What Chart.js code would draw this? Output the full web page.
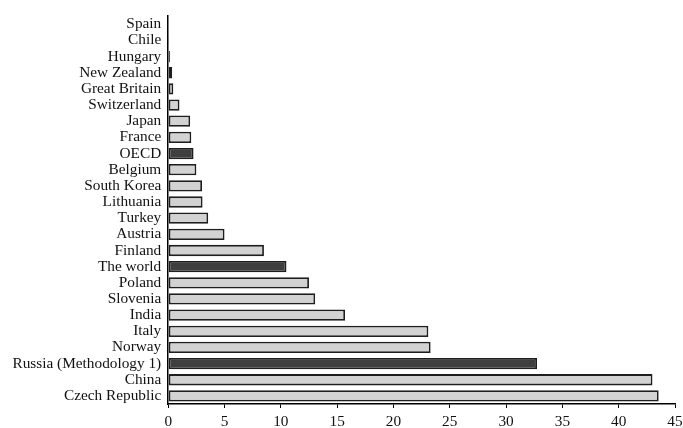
<!DOCTYPE html>
<html>
<head>
  <title>Bar chart</title>
  <script src="https://cdn.jsdelivr.net/npm/chart.js"></script>
  <style>
    body { margin: 0; background: #fff; }
  </style>
</head>
<body>
  <canvas id="chartCanvas" width="683" height="428"></canvas>

  <script>
    const countries = [
      "Spain", "Chile", "Hungary", "New Zealand", "Great Britain", "Switzerland",
      "Japan", "France", "OECD", "Belgium", "South Korea", "Lithuania", "Turkey",
      "Austria", "Finland", "The world", "Poland", "Slovenia", "India", "Italy",
      "Norway", "Russia (Methodology 1)", "China", "Czech Republic"
    ];
    const values = [
      0, 0.02, 0.15, 0.35, 0.45, 1.0,
      1.95, 2.05, 2.25, 2.5, 3.0, 3.05, 3.55,
      5.0, 8.5, 10.5, 12.5, 13.05, 15.7, 23.1,
      23.3, 32.75, 43.0, 43.55
    ];
    const xTicks = [0, 5, 10, 15, 20, 25, 30, 35, 40, 45];
    const aggregates = ["OECD", "The world", "Russia (Methodology 1)"];

    const fills = countries.map(c => aggregates.includes(c) ? "#3f3f3f" : "#d2d2d2");

    const ctx = document.getElementById("chartCanvas").getContext("2d");
    new Chart(ctx, {
      type: "bar",
      data: {
        labels: countries,
        datasets: [{
          data: values,
          backgroundColor: fills,
          borderColor: "#1e1e1e",
          borderWidth: 1.8,
          borderSkipped: false,
          barPercentage: 0.7,
          categoryPercentage: 1.0
        }]
      },
      options: {
        indexAxis: "y",
        responsive: false,
        animation: false,
        layout: { padding: { top: 13, right: 8, bottom: 0, left: 5.5 } },
        plugins: { legend: { display: false }, tooltip: { enabled: false } },
        scales: {
          x: {
            min: 0,
            max: 45,
            afterBuildTicks: axis => { axis.ticks = xTicks.map(v => ({ value: v })); },
            afterFit: axis => { axis.height = 24; axis.paddingRight = 8; },
            grid: { drawOnChartArea: false, tickLength: 4, color: "#000", lineWidth: 1 },
            border: { color: "#000", width: 1.5 },
            ticks: {
              color: "#111",
              padding: 6,
              font: { family: "Liberation Serif", size: 15.3, lineHeight: 1 }
            }
          },
          y: {
            grid: { display: false, drawTicks: false },
            border: { color: "#000", width: 1.5 },
            ticks: {
              color: "#111",
              padding: 7,
              autoSkip: false,
              font: { family: "Liberation Serif", size: 15.3 }
            }
          }
        }
      }
    });
  </script>
</body>
</html>
